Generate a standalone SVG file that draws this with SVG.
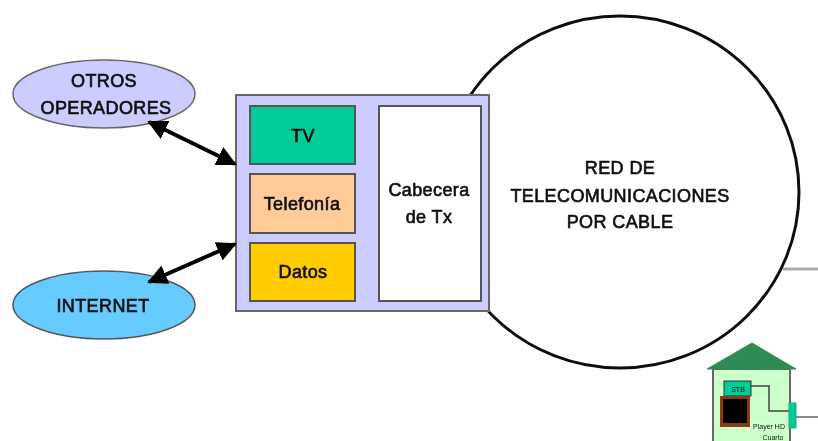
<svg xmlns="http://www.w3.org/2000/svg" width="818" height="441" viewBox="0 0 818 441">
<defs>
<style>
text{font-family:"Liberation Sans",Arial,sans-serif;text-anchor:middle;fill:#111;font-size:18px;font-weight:400;stroke:#111;stroke-width:.65px;letter-spacing:.4px}
.box{stroke:#555;stroke-width:2}
.arrow{stroke:#000;stroke-width:4;fill:none;marker-start:url(#ah);marker-end:url(#ah)}
.tiny{font-size:7px;stroke:none;letter-spacing:0}
</style>
<marker id="ah" markerWidth="5" markerHeight="5" refX="4.5" refY="2.5" orient="auto-start-reverse" markerUnits="strokeWidth"><path d="M0 0L5 2.5L0 5z" fill="#000"/></marker>
<filter id="b" x="-5%" y="-5%" width="110%" height="110%"><feGaussianBlur stdDeviation="0.7"/></filter>
</defs>
<rect width="818" height="441" fill="#fff"/>
<g filter="url(#b)">
<g id="red"><ellipse cx="620" cy="192" rx="179" ry="176" fill="#fff" stroke="#111" stroke-width="3"/>
<text x="620" y="174">RED DE</text><text x="620" y="202">TELECOMUNICACIONES</text><text x="620" y="228">POR CABLE</text></g>
<g id="otros"><ellipse cx="104" cy="94" rx="91" ry="34" fill="#ccf" stroke="#666" stroke-width="1.5"/>
<text x="104" y="87">OTROS</text><text x="106" y="114">OPERADORES</text></g>
<g id="internet"><ellipse cx="104" cy="305" rx="91" ry="34" fill="#6cf" stroke="#555" stroke-width="1.5"/>
<text x="103" y="312">INTERNET</text></g>
<g id="cabecera-grupo"><rect x="236" y="95" width="253" height="216" fill="#ccf" stroke="#666" stroke-width="2"/></g>
<g id="tv"><rect class="box" x="250" y="106" width="105" height="58" fill="#0c9"/><text x="303" y="142">TV</text></g>
<g id="telefonia"><rect class="box" x="250" y="174" width="105" height="59" fill="#fc9"/><text x="302" y="210">Telefonía</text></g>
<g id="datos"><rect class="box" x="250" y="243" width="105" height="58" fill="#fc0"/><text x="303" y="278">Datos</text></g>
<g id="cabecera"><rect class="box" x="379" y="106" width="102" height="195" fill="#fff"/>
<text x="429" y="196">Cabecera</text><text x="429" y="223">de Tx</text></g>
<g id="casa">
<rect x="713" y="369" width="77" height="80" fill="#cfc" stroke="#666" stroke-width="2"/>
<path d="M707 369L752 343L796 369z" fill="#2e8b57" stroke="#2e8b57"/>
<path d="M751 386H769V411H789" fill="none" stroke="#444" stroke-width="1.5"/>
<rect x="724" y="381" width="27" height="15" fill="#0c9" stroke="#333"/>
<rect x="720" y="396" width="30" height="31" fill="#8a3a12"/>
<rect x="723" y="399" width="24" height="24" fill="#000"/>
<rect x="789" y="403" width="7" height="25" fill="#0c9" stroke="#2a7"/>
<text class="tiny" x="738" y="392">STB</text>
<text class="tiny" x="769" y="429">Player HD</text>
<text class="tiny" x="773" y="440">Cuarto</text>
</g>
<g id="connectors">
<path d="M783 269H818" stroke="#aaa" stroke-width="3" fill="none"/>
<path d="M796 417H818" stroke="#888" stroke-width="2" fill="none"/>
<path class="arrow" d="M149 122L235 164"/>
<path class="arrow" d="M149 282L235 244"/>
</g>
</g>
</svg>
